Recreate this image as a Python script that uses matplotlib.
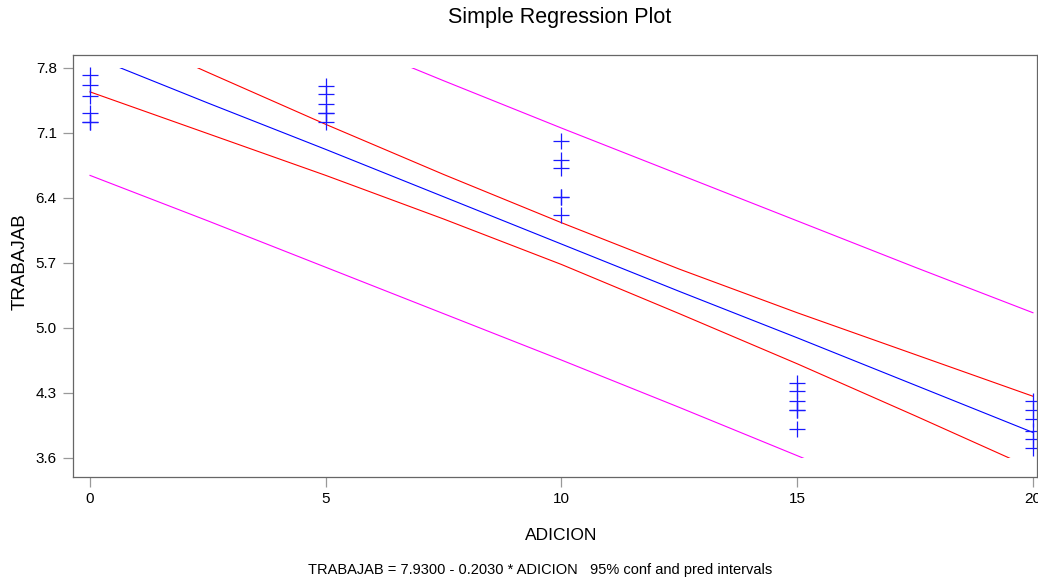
######################################################################################
#                       Simple regression plot with conf / pred bands
######################################################################################

import numpy as np
import matplotlib as mpl
import matplotlib.pyplot as plt
from matplotlib.patches import Rectangle

plt.rcParams['font.family'] = ['Liberation Sans', 'DejaVu Sans']

######################################################################################
# Data.
######################################################################################

adicion = [0, 0, 0, 0, 0, 0,
           5, 5, 5, 5, 5, 5,
           10, 10, 10, 10, 10, 10,
           15, 15, 15, 15, 15, 15,
           20, 20, 20, 20, 20, 20]
trabajab = [7.72, 7.61, 7.50, 7.31, 7.22, 7.22,
            7.60, 7.52, 7.41, 7.31, 7.31, 7.21,
            7.01, 6.81, 6.72, 6.41, 6.41, 6.21,
            4.40, 4.32, 4.21, 4.11, 4.11, 3.91,
            4.21, 4.11, 4.01, 3.89, 3.80, 3.70]

# band curves, read at these x positions
band_x = [0, 2.5, 5, 7.5, 10, 12.5, 15, 17.5, 20]
fit_y = [7.93, 7.42, 6.92, 6.41, 5.90, 5.39, 4.89, 4.38, 3.87]
conf_up = [8.32, 7.75, 7.19, 6.65, 6.13, 5.63, 5.16, 4.71, 4.26]
conf_lo = [7.54, 7.09, 6.64, 6.17, 5.68, 5.15, 4.61, 4.05, 3.48]
pred_up = [9.22, 8.70, 8.18, 7.66, 7.15, 6.65, 6.15, 5.65, 5.16]
pred_lo = [6.64, 6.15, 5.65, 5.15, 4.65, 4.14, 3.62, 3.10, 2.58]

x_ticks = [0, 5, 10, 15, 20]
y_ticks = [3.6, 4.3, 5.0, 5.7, 6.4, 7.1, 7.8]

######################################################################################
# Plot.
######################################################################################

fig = plt.figure(figsize=(10.38, 5.81), dpi=100)
ax = fig.add_axes([0.0708, 0.179, 0.9282, 0.7263])
ax.set_xlim(-0.35, 20.085)
ax.set_ylim(3.39, 7.937)

# lines are cut at the outer y ticks
clip = Rectangle((-0.35, 3.6), 20.5, 4.2, transform=ax.transData)

for ys, col in [(pred_up, '#ff00ff'), (pred_lo, '#ff00ff'),
                (conf_up, '#ff0000'), (conf_lo, '#ff0000'),
                (fit_y, '#0000ff')]:
    line, = ax.plot(band_x, ys, color=col, linewidth=0.8)
    line.set_clip_path(clip)

ax.plot(adicion, trabajab, linestyle='none', marker='+', markersize=11,
        markeredgewidth=0.9, color='#1a1aff')

ax.set_xticks(x_ticks)
ax.set_yticks(y_ticks)
ax.set_yticklabels(['{:.1f}'.format(v) for v in y_ticks])
for s in ax.spines.values():
    s.set_color('#666666')
    s.set_linewidth(0.9)
ax.tick_params(direction='out', length=7, width=0.9, color='#999999',
               labelsize=11)
ax.tick_params(axis='y', pad=5)
ax.tick_params(axis='x', pad=4)

fig.text(0.5395, 1 - 18/581, 'Simple Regression Plot', ha='center', va='center',
         fontsize=15.5)
fig.text(0.5405, 1 - 535/581, 'ADICION', ha='center', va='center', fontsize=12.5)
fig.text(0.0193, 1 - 262/581, 'TRABAJAB', ha='center', va='center',
         rotation=90, fontsize=13.5)
fig.text(0.5202, 1 - 570/581,
         'TRABAJAB = 7.9300 - 0.2030 * ADICION   95% conf and pred intervals',
         ha='center', va='center', fontsize=10.5)

plt.savefig('out.png', dpi=100)
